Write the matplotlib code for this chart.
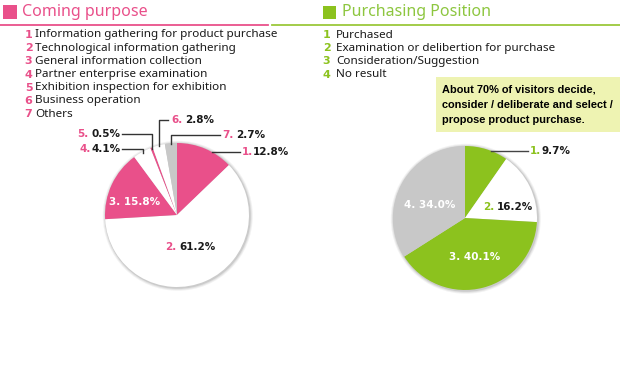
import matplotlib.pyplot as plt
import matplotlib.patches as mpatches
import numpy as np

# data
purpose_labels = ['Information gathering for product purchase',
                  'Technological information gathering',
                  'General information collection',
                  'Partner enterprise examination',
                  'Exhibition inspection for exhibition',
                  'Business operation',
                  'Others']
purpose_values = [12.8, 61.2, 15.8, 4.1, 0.5, 2.8, 2.7]

position_labels = ['Purchased',
                   'Examination or delibertion for purchase',
                   'Consideration/Suggestion',
                   'No result']
position_values = [9.7, 16.2, 40.1, 34.0]

note_lines = ['About 70% of visitors decide,',
              'consider / deliberate and select /',
              'propose product purchase.']

PINK = '#E9508A'
GREEN = '#8CC21E'
GRAY = '#C8C8C8'
WHITE = '#FFFFFF'
INK = '#1a1a1a'

purpose_colors = [PINK, WHITE, PINK, WHITE, PINK, WHITE, GRAY]
position_colors = [GREEN, WHITE, GREEN, GRAY]

W, H = 620, 385
fig = plt.figure(figsize=(6.2, 3.85), dpi=100)
ax = fig.add_axes([0, 0, 1, 1])


def Y(y):
    # picture rows run downwards, axes run upwards
    return H - y


def shadow(cx, cy, r):
    for d, a in [(3.0, 0.10), (2.0, 0.15), (1.0, 0.25)]:
        ax.add_patch(mpatches.Circle((cx + 0.8, Y(cy) - 0.8), r + d,
                                     color='#888888', alpha=a, lw=0, zorder=1))


def mid_angles(values):
    vals = np.array(values, dtype=float)
    frac = vals / vals.sum() * 360.0
    ends = 90 - np.cumsum(frac)
    starts = ends + frac
    return (starts + ends) / 2.0


def edge_point(cx, cy, r, ang):
    return cx + r * np.cos(np.radians(ang)), cy - r * np.sin(np.radians(ang))


lab_font = dict(fontsize=7.5, fontweight='bold', family='DejaVu Sans')

# ---------------- left: Coming purpose ----------------
c1x, c1y, r1 = 177, 215, 72
shadow(c1x, c1y, r1)
ax.pie(purpose_values, colors=purpose_colors, startangle=90, counterclock=False,
       center=(c1x, Y(c1y)), radius=r1, frame=True,
       wedgeprops=dict(linewidth=0, zorder=2))
for p in ax.patches[-len(purpose_values):]:
    p.set_zorder(2)

ax.add_patch(mpatches.Rectangle((3, Y(19)), 14, 14, color=PINK, lw=0))
ax.text(22, Y(12), 'Coming purpose', color=PINK, fontsize=11.5, va='center',
        family='Noto Sans')
ax.plot([0, 268], [Y(24.5), Y(24.5)], color=PINK, lw=1.3)

for i, lab in enumerate(purpose_labels):
    yy = Y(35 + 13.2 * i)
    ax.text(28.5, yy, str(i + 1), color=PINK, fontsize=8, fontweight='bold',
            ha='center', va='center', family='DejaVu Sans')
    ax.text(35, yy, lab, color=INK, fontsize=8.4, va='center', family='Noto Sans')

m1 = mid_angles(purpose_values)

# slice 1: horizontal leader from pie edge
ly = 152
ax.plot([c1x + np.sqrt(r1 ** 2 - (c1y - ly) ** 2), 240], [Y(ly), Y(ly)],
        color='#333333', lw=1, zorder=3)
ax.text(242, Y(ly), '1.', color=PINK, va='center', **lab_font)
ax.text(253, Y(ly), '%.1f%%' % purpose_values[0], color=INK, va='center', **lab_font)

# slices 4..7: elbow leaders
elbows = {3: (149, 122, 79, 92),
          4: (134, 122, 77, 92),
          5: (120, 168, 171, 185),
          6: (135, 220, 222, 236)}
for k, (ly, lx, nx, vx) in elbows.items():
    px, py = edge_point(c1x, c1y, r1 - 1, m1[k])
    ax.plot([px, px, lx], [Y(py), Y(ly), Y(ly)], color='#333333', lw=1, zorder=3)
    ax.text(nx, Y(ly), '%d.' % (k + 1), color=PINK, va='center', **lab_font)
    ax.text(vx, Y(ly), '%.1f%%' % purpose_values[k], color=INK, va='center', **lab_font)

ax.text(135, Y(202), '3. %.1f%%' % purpose_values[2], color=WHITE, ha='center',
        va='center', **lab_font)
ax.text(165, Y(247), '2.', color=PINK, va='center', **lab_font)
ax.text(179, Y(247), '%.1f%%' % purpose_values[1], color=INK, va='center', **lab_font)

# ---------------- right: Purchasing Position ----------------
c2x, c2y, r2 = 465, 218, 72
shadow(c2x, c2y, r2)
ax.pie(position_values, colors=position_colors, startangle=90, counterclock=False,
       center=(c2x, Y(c2y)), radius=r2, frame=True,
       wedgeprops=dict(linewidth=0, zorder=2))
for p in ax.patches[-len(position_values):]:
    p.set_zorder(2)

ax.add_patch(mpatches.Rectangle((323, Y(19)), 13, 13, color=GREEN, lw=0))
ax.text(342, Y(12), 'Purchasing Position', color='#8DC63F', fontsize=11.5,
        va='center', family='Noto Sans')
ax.plot([272, 620], [Y(24.5), Y(24.5)], color='#9BC83A', lw=1.3)

for i, lab in enumerate(position_labels):
    yy = Y(35 + 13.2 * i)
    ax.text(326.5, yy, str(i + 1), color=GREEN, fontsize=8, fontweight='bold',
            ha='center', va='center', family='DejaVu Sans')
    ax.text(336, yy, lab, color=INK, fontsize=8.4, va='center', family='Noto Sans')

ax.add_patch(mpatches.Rectangle((436, Y(132)), 184, 55, color='#EEF3B2', lw=0))
for i, line in enumerate(note_lines):
    ax.text(442, Y(89 + 15.5 * i), line, color='black', fontsize=7.9,
            fontweight='bold', va='center', family='Liberation Sans')

ly = 151
ax.plot([c2x + np.sqrt(r2 ** 2 - (c2y - ly) ** 2), 528], [Y(ly), Y(ly)],
        color='#444444', lw=1, zorder=3)
ax.text(530, Y(ly), '1.', color=GREEN, va='center', **lab_font)
ax.text(541, Y(ly), '%.1f%%' % position_values[0], color=INK, va='center', **lab_font)

ax.text(483, Y(207), '2.', color=GREEN, va='center', **lab_font)
ax.text(497, Y(207), '%.1f%%' % position_values[1], color=INK, va='center', **lab_font)
ax.text(475, Y(257), '3. %.1f%%' % position_values[2], color=WHITE, ha='center',
        va='center', **lab_font)
ax.text(430, Y(205), '4. %.1f%%' % position_values[3], color=WHITE, ha='center',
        va='center', **lab_font)

ax.set_xlim(0, W)
ax.set_ylim(0, H)
ax.axis('off')
fig.savefig('out.png', dpi=100, facecolor='white')
